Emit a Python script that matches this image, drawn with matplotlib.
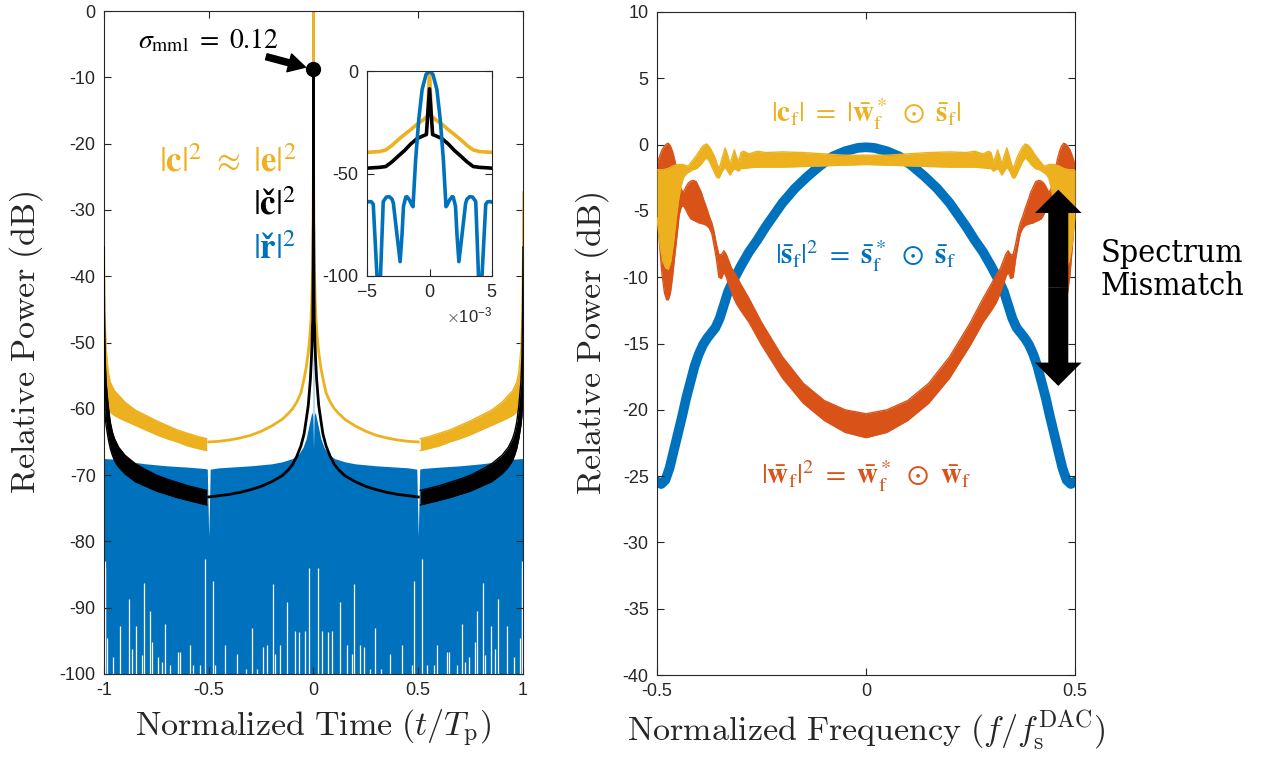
import numpy as np
import matplotlib.pyplot as plt
from matplotlib.ticker import ScalarFormatter

plt.rcParams['font.family'] = ['Liberation Sans', 'DejaVu Sans']
plt.rcParams['axes.unicode_minus'] = False
plt.rcParams['mathtext.fontset'] = 'cm'

BLUE, ORANGE, YELLOW = '#0072BD', '#D95319', '#EDB120'
AXC = '#262626'

# ---------------- left panel: time domain (t <= 0 half, mirrored) ----------------
# yellow |c|^2 : oscillating band on -1 .. -0.5
yel_band_t = [-1.0, -0.998, -0.995, -0.99, -0.98, -0.97, -0.95, -0.92, -0.9, -0.85,
              -0.8, -0.75, -0.7, -0.65, -0.6, -0.55, -0.51]
yel_band_hi = [-27.3, -38.0, -46.0, -51.0, -54.5, -56.0, -57.3, -58.3, -59.0, -60.2,
               -61.0, -61.8, -62.5, -63.2, -63.7, -64.2, -64.5]
yel_band_lo = [-40.0, -50.0, -55.0, -58.0, -60.0, -60.5, -61.0, -61.5, -61.8, -62.5,
               -63.2, -63.9, -64.5, -65.0, -65.6, -66.0, -66.3]
# yellow |c|^2 : single line on -0.5 .. 0
yel_t = [-0.5, -0.45, -0.4, -0.35, -0.3, -0.25, -0.2, -0.15, -0.12, -0.1, -0.08, -0.06,
         -0.046, -0.035, -0.025, -0.018, -0.012, -0.008, -0.005, -0.004, -0.0035, -0.003,
         -0.0025, -0.002, -0.0015, -0.001, -0.0005, -0.00025, -0.00015, 0]
yel_db = [-65.0, -64.9, -64.7, -64.4, -64.0, -63.4, -62.6, -61.6, -60.7, -60.0, -59.0, -57.6,
          -55.6, -53.8, -51.5, -49.3, -46.5, -43.5, -39.7, -39.3, -38.5, -36.3,
          -33.5, -31.0, -28.6, -26.0, -23.8, -22.5, -22.0, 0.0]

# black |c_check|^2
blk_band_t = [-1.0, -0.998, -0.995, -0.99, -0.98, -0.97, -0.96, -0.95, -0.93, -0.9,
              -0.85, -0.8, -0.75, -0.7, -0.65, -0.6, -0.55, -0.51]
blk_band_hi = [-35.6, -45.0, -52.0, -56.0, -59.5, -62.0, -63.5, -64.5, -65.8, -67.0,
               -68.3, -69.2, -70.0, -70.6, -71.1, -71.6, -72.0, -72.3]
blk_band_lo = [-50.0, -58.0, -61.0, -62.5, -64.5, -66.0, -67.0, -67.8, -68.8, -69.8,
               -71.0, -71.7, -72.4, -72.9, -73.4, -73.8, -74.2, -74.5]
blk_t = [-0.5, -0.45, -0.4, -0.35, -0.3, -0.25, -0.2, -0.15, -0.12, -0.1, -0.08, -0.06,
         -0.045, -0.035, -0.025, -0.015, -0.01, -0.007, -0.005, -0.004, -0.0035, -0.003,
         -0.0025, -0.002, -0.0015, -0.001, -0.0005, -0.00025, 0]
blk_db = [-73.3, -73.1, -72.9, -72.6, -72.2, -71.7, -71.0, -70.1, -69.2, -68.4, -67.2, -65.6,
          -63.8, -61.7, -59.5, -55.6, -52.5, -50.0, -47.4, -47.0, -46.6, -44.3,
          -41.5, -38.8, -35.6, -33.0, -31.6, -31.0, -8.7]
peak_db = -8.8   # marked peak of the black curve

# blue |r_check|^2 : top of the dense band (band runs down to -100)
blu_t = [-1.0, -0.95, -0.9, -0.8, -0.7, -0.6, -0.52, -0.507, -0.5, -0.493, -0.45, -0.4,
         -0.3, -0.2, -0.15, -0.1, -0.07, -0.05, -0.035, -0.025, -0.015, -0.008, -0.004,
         -0.0013, -0.0011, -0.0009, -0.0006, -0.0003, 0]
blu_top = [-67.5, -67.6, -67.9, -68.3, -68.6, -68.8, -69.0, -69.1, -79.3, -69.1, -68.9, -68.8,
           -68.6, -68.3, -68.0, -67.5, -66.8, -65.8, -64.5, -63.0, -61.5, -60.5, -61.0,
           -66.0, -43.0, -24.0, -9.0, -1.6, 0.0]
# white gaps at the bottom of the blue band: position and top of each gap
gap_t = [-0.997, -0.993, -0.984, -0.955, -0.924, -0.879, -0.868, -0.847, -0.820, -0.807,
         -0.780, -0.772, -0.741, -0.725, -0.709, -0.685, -0.648, -0.637, -0.590, -0.574,
         -0.542, -0.518, -0.481, -0.470, -0.422, -0.367, -0.322, -0.295, -0.271, -0.239,
         -0.224, -0.195, -0.184, -0.160, -0.125, -0.088, -0.068, -0.041, -0.020]
gap_top = [-83.0, -84.0, -94.5, -97.5, -92.7, -88.7, -96.2, -92.7, -97.2, -86.2,
           -90.5, -95.2, -97.5, -98.2, -92.5, -98.7, -96.7, -96.7, -95.7, -98.7,
           -98.7, -82.7, -86.0, -98.7, -95.7, -97.0, -99.2, -93.0, -99.2, -96.0,
           -95.7, -86.5, -97.0, -95.7, -89.2, -93.5, -93.7, -93.5, -84.0]
# blue fine structure around t = 0 (inset)
blu_in_t = [-0.0050, -0.00485, -0.00465, -0.0045, -0.0042, -0.00405, -0.00392, -0.0037,
            -0.00345, -0.00322, -0.0030, -0.00289, -0.0026, -0.00235, -0.0022, -0.00208,
            -0.0019, -0.00181, -0.00165, -0.00154, -0.0014, -0.00132, -0.00111, -0.00086,
            -0.00059, -0.00027, 0]
blu_in_db = [-64.0, -63.7, -63.8, -65.0, -100.0, -110.0, -100.0, -63.7,
             -61.5, -61.3, -62.5, -64.5, -80.0, -93.0, -80.0, -66.0,
             -61.5, -61.3, -62.5, -63.7, -65.5, -66.2, -43.3, -23.7,
             -9.0, -1.6, 0.0]

# ---------------- right panel: frequency domain (f <= 0 half, mirrored) ----------------
blu_f = [-0.5, -0.49, -0.48, -0.47, -0.46, -0.45, -0.44, -0.43, -0.42, -0.41, -0.40, -0.39,
         -0.38, -0.37, -0.36, -0.35, -0.34, -0.33, -0.32, -0.30, -0.28, -0.26, -0.24, -0.22,
         -0.2, -0.17, -0.14, -0.11, -0.08, -0.05, -0.02, 0]
blu_f_db = [-25.4, -25.6, -25.3, -24.4, -23.1, -21.8, -20.5, -19.1, -17.9, -16.7, -15.8, -15.1,
            -14.6, -14.2, -13.8, -13.1, -12.1, -11.1, -10.4, -9.2, -8.1, -7.2, -6.2, -5.3,
            -4.4, -3.3, -2.4, -1.6, -0.9, -0.5, -0.25, -0.2]

org_f = [-0.5, -0.494, -0.488, -0.482, -0.477, -0.473, -0.468, -0.463, -0.458, -0.452, -0.447,
         -0.442, -0.437, -0.431, -0.425, -0.419, -0.413, -0.406, -0.4, -0.394, -0.388, -0.381,
         -0.375, -0.369, -0.364, -0.358, -0.352, -0.346, -0.34, -0.334, -0.328, -0.322, -0.316,
         -0.31, -0.3, -0.28, -0.25, -0.2, -0.15, -0.1, -0.05, 0]
org_hi = [-1.5, -0.9, -0.4, -0.1, 0.05, 0.1, -0.1, -0.5, -1.1, -2.0, -2.9,
          -3.4, -3.6, -3.2, -2.9, -2.75, -2.7, -2.8, -3.2, -3.6, -4.2, -4.8,
          -5.4, -5.9, -6.5, -7.5, -8.3, -8.3, -8.0, -8.3, -8.8, -9.3, -9.6,
          -9.9, -10.5, -11.6, -13.4, -16.0, -18.0, -19.3, -20.0, -20.3]
org_lo = [-5.0, -7.5, -9.8, -11.2, -11.7, -11.7, -11.2, -10.0, -8.5, -6.8, -5.3,
          -4.7, -4.6, -4.9, -5.3, -5.6, -5.7, -5.8, -5.9, -5.95, -6.0, -6.1,
          -6.3, -6.7, -7.5, -8.6, -10.0, -10.1, -9.6, -10.0, -10.6, -11.1, -11.6,
          -12.0, -12.5, -13.4, -15.1, -17.6, -19.5, -20.8, -21.7, -22.1]

yel_f = [-0.5, -0.493, -0.486, -0.479, -0.473, -0.467, -0.461, -0.455, -0.449, -0.443, -0.437,
         -0.43, -0.425, -0.415, -0.405, -0.395, -0.388, -0.381, -0.374, -0.367, -0.361, -0.356,
         -0.351, -0.344, -0.337, -0.331, -0.325, -0.32, -0.315, -0.31, -0.305, -0.299, -0.293,
         -0.28, -0.26, -0.24, -0.2, -0.15, -0.1, -0.05, 0]
yel_hi = [-1.9, -1.9, -1.9, -1.85, -1.8, -1.7, -1.6, -1.55, -1.5, -1.5, -1.5,
          -1.6, -1.6, -1.2, -0.8, -0.3, -0.05, 0.05, -0.2, -0.6, -1.0, -1.5,
          -1.8, -1.0, -0.25, -0.8, -1.5, -0.9, -0.4, -0.9, -1.3, -0.6, -0.5,
          -0.7, -0.5, -0.6, -0.55, -0.6, -0.7, -0.8, -0.8]
yel_lo = [-5.5, -7.5, -8.8, -9.3, -9.4, -8.8, -7.5, -5.8, -4.3, -3.2, -2.5,
          -2.2, -2.1, -1.9, -1.8, -1.5, -1.2, -1.0, -1.3, -1.8, -2.2, -2.5,
          -2.5, -2.0, -1.7, -2.0, -2.3, -2.0, -1.8, -1.9, -2.0, -1.8, -1.8,
          -1.75, -1.7, -1.7, -1.7, -1.65, -1.6, -1.55, -1.5]

# spectrum mismatch arrow (f position, top and bottom in dB)
mm_f, mm_top, mm_bot = 0.46, -3.4, -18.2


def mirror(x, y):
    x = np.asarray(x, float)
    y = np.asarray(y, float)
    if x[-1] == 0:
        return np.r_[x, -x[-2::-1]], np.r_[y, y[-2::-1]]
    return np.r_[x, -x[::-1]], np.r_[y, y[::-1]]


def band(ax, x, hi, lo, color, z, lw=1.0):
    ax.fill_between(x, hi, lo, color=color, lw=0, zorder=z)
    ax.plot(x, hi, color=color, lw=lw, zorder=z)
    ax.plot(x, lo, color=color, lw=lw, zorder=z)


def style(ax, size=13):
    ax.tick_params(direction='in', top=True, right=True, length=5, width=0.8,
                   labelsize=size, colors=AXC, pad=6)
    for s in ax.spines.values():
        s.set_linewidth(0.8)
        s.set_color(AXC)


fig = plt.figure(figsize=(12.65, 7.57), dpi=100)

# ---- left panel ----
ax1 = fig.add_axes([104 / 1265, 1 - 674 / 757, 419 / 1265, 663 / 757])
bt, btop = mirror(blu_t, blu_top)
ax1.fill_between(bt, btop, -100, color=BLUE, lw=0, zorder=1)
gt, gtop = mirror(gap_t, gap_top)
ax1.vlines(gt, -100, gtop, color='white', lw=0.9, zorder=1.5)

yb_t = np.asarray(yel_band_t)
band(ax1, yb_t, yel_band_hi, yel_band_lo, YELLOW, 2)
band(ax1, -yb_t, yel_band_hi, yel_band_lo, YELLOW, 2)
yt, yd = mirror(yel_t, yel_db)
ax1.plot(yt, yd, color=YELLOW, lw=2.0, zorder=2)

kb_t = np.asarray(blk_band_t)
band(ax1, kb_t, blk_band_hi, blk_band_lo, 'k', 3)
band(ax1, -kb_t, blk_band_hi, blk_band_lo, 'k', 3)
kt, kd = mirror(blk_t, blk_db)
ax1.plot(kt, kd, color='k', lw=2.0, zorder=3)

ax1.plot(0, peak_db, 'o', color='k', ms=10, zorder=4)
ax1.annotate('', xy=(0, peak_db), xytext=(-0.225, -6.9),
             arrowprops=dict(arrowstyle='simple,head_length=0.55,head_width=0.6,tail_width=0.2',
                             color='k', shrinkA=0, shrinkB=6, mutation_scale=22), zorder=5)
ax1.text(-0.84, -4.4, r'$\sigma_{\mathrm{mml}}\ =\ 0.12$', fontsize=20, math_fontfamily='stix',
         va='center', ha='left', color='k')
ax1.text(-0.083, -22.8, r'$|\mathbf{c}|^2\ \approx\ |\mathbf{e}|^2$', fontsize=25,
         math_fontfamily='stix', color=YELLOW, ha='right', va='center')
ax1.text(-0.083, -29.2, r'$|\mathbf{č}|^2$', fontsize=25,
         math_fontfamily='stix', color='k', ha='right', va='center')
ax1.text(-0.083, -35.9, r'$|\mathbf{ř}|^2$', fontsize=25,
         math_fontfamily='stix', color=BLUE, ha='right', va='center')

ax1.set_xlim(-1, 1)
ax1.set_ylim(-100, 0)
ax1.set_xticks([-1, -0.5, 0, 0.5, 1])
ax1.set_xticklabels(['-1', '-0.5', '0', '0.5', '1'])
ax1.set_yticks(np.arange(-100, 1, 10))
style(ax1)
ax1.set_xlabel(r'$\mathrm{Normalized\ Time}\ (t/T_\mathrm{p})$', fontsize=24.5, color=AXC)
ax1.set_ylabel(r'$\mathrm{Relative\ Power\ (dB)}$', fontsize=24.5, color=AXC)
ax1.xaxis.set_label_coords(0.5, -0.05)
ax1.yaxis.set_label_coords(-0.14, 0.5)

# ---- inset ----
axi = fig.add_axes([367 / 1265, 1 - 276 / 757, 125 / 1265, 205 / 757])
axi.plot(yt, yd, color=YELLOW, lw=2.6)
axi.plot(kt, kd, color='k', lw=2.6)
it, idb = mirror(blu_in_t, blu_in_db)
axi.plot(it, idb, color=BLUE, lw=2.6)
axi.set_xlim(-5e-3, 5e-3)
axi.set_ylim(-100, 0)
axi.set_xticks([-5e-3, 0, 5e-3])
axi.set_yticks([-100, -50, 0])
fmt = ScalarFormatter(useMathText=True)
fmt.set_powerlimits((0, 0))
axi.xaxis.set_major_formatter(fmt)
style(axi)
axi.xaxis.get_offset_text().set_fontsize(12)
axi.xaxis.get_offset_text().set_color(AXC)

# ---- right panel ----
ax2 = fig.add_axes([657 / 1265, 1 - 675 / 757, 418 / 1265, 663 / 757])
bf, bd = mirror(blu_f, blu_f_db)
ax2.plot(bf, bd, color=BLUE, lw=7, solid_capstyle='round', solid_joinstyle='round', zorder=1)
of, ohi = mirror(org_f, org_hi)
_, olo = mirror(org_f, org_lo)
band(ax2, of, ohi, olo, ORANGE, 2)
cf, chi = mirror(yel_f, yel_hi)
_, clo = mirror(yel_f, yel_lo)
band(ax2, cf, chi, clo, YELLOW, 3)

mid = (mm_top + mm_bot) / 2
for end in (mm_top, mm_bot):
    ax2.annotate('', xy=(mm_f, end), xytext=(mm_f, mid),
                 arrowprops=dict(arrowstyle='simple,head_length=0.42,head_width=0.84,tail_width=0.36',
                                 color='k', lw=0, shrinkA=0, shrinkB=0, mutation_scale=40),
                 zorder=6)

ax2.text(0, 2.3, r'$|\mathbf{c}_\mathrm{f}|\ =\ |\bar{\mathbf{w}}_\mathrm{f}^*\ \odot\ \bar{\mathbf{s}}_\mathrm{f}|$',
         fontsize=21, math_fontfamily='stix', color=YELLOW, ha='center', va='center')
ax2.text(0, -8.4, r'$|\bar{\mathbf{s}}_\mathrm{f}|^2\ =\ \bar{\mathbf{s}}_\mathrm{f}^*\ \odot\ \bar{\mathbf{s}}_\mathrm{f}$',
         fontsize=21, math_fontfamily='stix', color=BLUE, ha='center', va='center')
ax2.text(0, -25.0, r'$|\bar{\mathbf{w}}_\mathrm{f}|^2\ =\ \bar{\mathbf{w}}_\mathrm{f}^*\ \odot\ \bar{\mathbf{w}}_\mathrm{f}$',
         fontsize=21, math_fontfamily='stix', color=ORANGE, ha='center', va='center')
ax2.text(0.732, -9.45, 'Spectrum\nMismatch', fontsize=23, family='DejaVu Serif',
         fontstretch='condensed', ha='center', va='center', color='k', clip_on=False,
         linespacing=1.1)

ax2.set_xlim(-0.5, 0.5)
ax2.set_ylim(-40, 10)
ax2.set_xticks([-0.5, 0, 0.5])
ax2.set_xticklabels(['-0.5', '0', '0.5'])
ax2.set_yticks(np.arange(-40, 11, 5))
style(ax2)
ax2.set_xlabel(r'$\mathrm{Normalized\ Frequency}\ (f/f_\mathrm{s}^\mathrm{DAC})$', fontsize=24.5, color=AXC)
ax2.set_ylabel(r'$\mathrm{Relative\ Power\ (dB)}$', fontsize=24.5, color=AXC)
ax2.xaxis.set_label_coords(0.5, -0.05)
ax2.yaxis.set_label_coords(-0.11, 0.5)

fig.savefig('out.png', dpi=100)
